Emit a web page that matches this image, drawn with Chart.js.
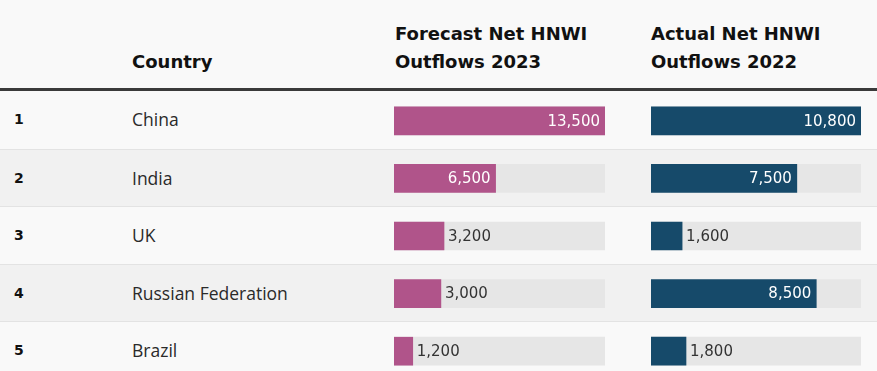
<!DOCTYPE html>
<html>
<head>
<meta charset="utf-8">
<script src="https://cdn.jsdelivr.net/npm/chart.js@4.4.1/dist/chart.umd.min.js"></script>
<style>
    body {
        margin: 0;
        width: 877px;
        height: 371px;
        overflow: hidden;
        background: #f9f9f9;
        position: relative;
        font-family: "DejaVu Sans", sans-serif;
        color: #222;
    }
    .head {
        position: absolute;
        font-weight: bold;
        font-size: 18px;
        line-height: 28px;
        color: #111;
    }
    .rule {
        position: absolute;
        left: 0;
        top: 88px;
        width: 877px;
        height: 3px;
        background: #3a3a3a;
    }
    .row {
        position: absolute;
        left: 0;
        width: 877px;
        height: 57.5px;
        border-top: 1px solid #e3e3e3;
        box-sizing: border-box;
    }
    .rank {
        position: absolute;
        left: 14px;
        top: 0;
        line-height: 57px;
        font-size: 14px;
        font-weight: bold;
        color: #111;
    }
    .country {
        position: absolute;
        left: 132px;
        top: 0;
        line-height: 57px;
        font-family: "Open Sans", sans-serif;
        font-size: 17.5px;
        color: #2a2a2a;
    }
    canvas {
        position: absolute;
        top: 92px;
    }
</style>
</head>
<body>
<div class="head" style="left:132px; top:48px;">Country</div>
<div class="head" style="left:395px; top:20px;">Forecast Net HNWI<br>Outflows 2023</div>
<div class="head" style="left:651px; top:20px;">Actual Net HNWI<br>Outflows 2022</div>
<div id="rows"></div>
<div class="rule"></div>
<canvas id="forecastChart" width="211" height="288" style="left:394px;"></canvas>
<canvas id="actualChart" width="210" height="288" style="left:651px;"></canvas>

<script>
const ranks = ['1', '2', '3', '4', '5'];
const countries = ['China', 'India', 'UK', 'Russian Federation', 'Brazil'];
const forecast2023 = [13500, 6500, 3200, 3000, 1200];
const actual2022 = [10800, 7500, 1600, 8500, 1800];

// table rows (striped background + rank + country)
const rowsEl = document.getElementById('rows');
countries.forEach((name, i) => {
    const row = document.createElement('div');
    row.className = 'row';
    row.style.top = (91 + i * 57.5) + 'px';
    row.style.background = i % 2 === 1 ? '#f1f1f1' : '#f9f9f9';
    if (i === 0) row.style.borderTop = 'none';
    row.innerHTML = '<span class="rank">' + ranks[i] + '</span><span class="country">' + name + '</span>';
    rowsEl.appendChild(row);
});

// draws the number on/next to each bar
const valueLabels = {
    id: 'valueLabels',
    afterDatasetsDraw(chart) {
        const ctx = chart.ctx;
        const meta = chart.getDatasetMeta(0);
        const values = chart.data.datasets[0].data;
        ctx.save();
        ctx.font = '15px "DejaVu Sans"';
        ctx.textBaseline = 'middle';
        meta.data.forEach((bar, i) => {
            const text = values[i].toLocaleString('en-US');
            const barWidth = bar.x - bar.base;
            const textWidth = ctx.measureText(text).width;
            if (barWidth > textWidth + 14) {
                ctx.fillStyle = '#ffffff';
                ctx.textAlign = 'right';
                ctx.fillText(text, bar.x - 5, bar.y + 1);
            } else {
                ctx.fillStyle = '#333333';
                ctx.textAlign = 'left';
                ctx.fillText(text, bar.x + 4, bar.y + 1);
            }
        });
        ctx.restore();
    }
};

function makeColumn(canvasId, values, color) {
    const max = Math.max(...values);
    const track = values.map(() => max);
    return new Chart(document.getElementById(canvasId).getContext('2d'), {
        type: 'bar',
        data: {
            labels: countries,
            datasets: [{
                data: values,
                backgroundColor: color,
                barThickness: 28,
                grouped: false
            }, {
                data: track,
                backgroundColor: '#e6e6e6',
                barThickness: 28,
                grouped: false
            }]
        },
        options: {
            indexAxis: 'y',
            responsive: false,
            animation: false,
            layout: { padding: 0 },
            scales: {
                x: { display: false, min: 0, max: max },
                y: { display: false }
            },
            plugins: {
                legend: { display: false },
                tooltip: { enabled: false }
            }
        },
        plugins: [valueLabels]
    });
}

makeColumn('forecastChart', forecast2023, '#b0548a');
makeColumn('actualChart', actual2022, '#164a6a');
</script>
</body>
</html>
